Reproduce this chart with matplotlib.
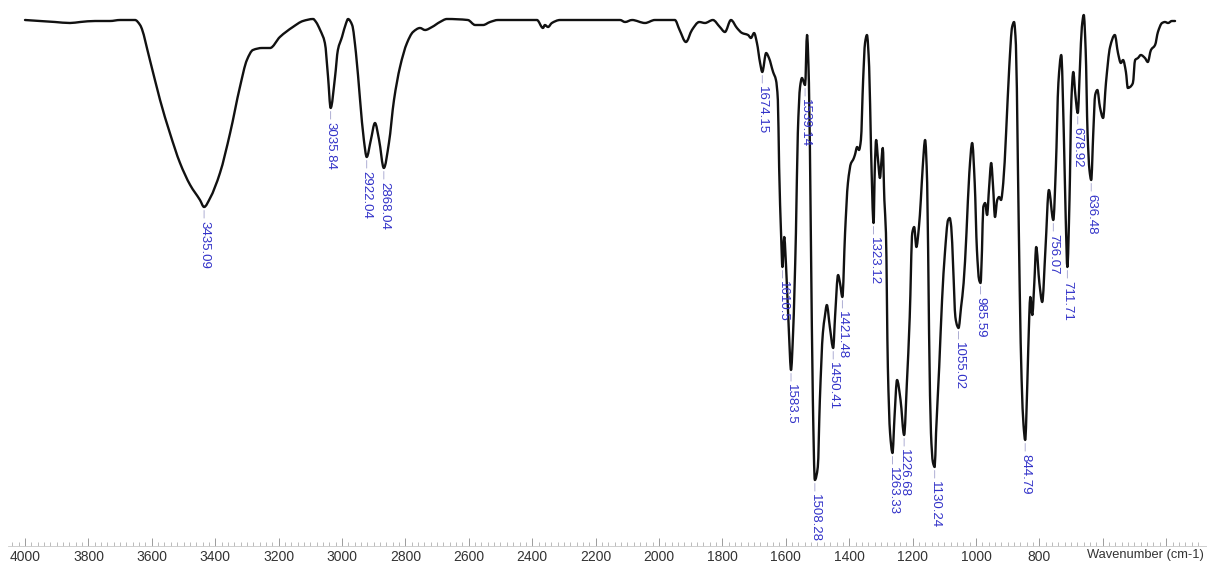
import numpy as np
import matplotlib
matplotlib.use("Agg")
import matplotlib.pyplot as plt
from matplotlib.ticker import FixedLocator, FixedFormatter
from matplotlib.path import Path
from matplotlib.patches import PathPatch

# FT-IR spectrum: wavenumber (cm-1) and transmittance (%)
wavenumber = [
    4000, 3953, 3905, 3858, 3826, 3779, 3732, 3700, 3669, 3653,
    3637, 3606, 3574, 3543, 3511, 3479, 3448, 3435.09, 3416, 3385,
    3353, 3322, 3300, 3281, 3252, 3227, 3196, 3155, 3123, 3091,
    3082, 3069, 3054, 3044, 3035.84, 3022, 3013, 3000, 2987, 2981,
    2968, 2956, 2943, 2931, 2922.04, 2909, 2896, 2883, 2868.04, 2852,
    2836, 2817, 2795, 2776, 2754, 2738, 2716, 2691, 2669, 2603,
    2580, 2555, 2533, 2508, 2385, 2366, 2360, 2350, 2338, 2312,
    2123, 2107, 2085, 2044, 2013, 1950, 1935, 1915, 1896, 1873,
    1855, 1830, 1808, 1792, 1773, 1754, 1738, 1719, 1710, 1700,
    1691, 1681, 1674.15, 1662, 1653, 1640, 1631, 1625, 1621, 1615,
    1610.5, 1605, 1599, 1590, 1583.5, 1577, 1568, 1562, 1555, 1549,
    1539.14, 1533, 1527, 1521, 1514.6, 1508.28, 1499, 1492.5, 1483, 1477,
    1470.5, 1461, 1450.41, 1444.6, 1435, 1429, 1421.48, 1413, 1404, 1394,
    1388, 1382, 1375, 1369, 1363, 1356, 1350, 1344, 1337, 1331,
    1323.12, 1319, 1315, 1309, 1303, 1298, 1294, 1289, 1284, 1278,
    1271, 1263.33, 1257, 1249, 1238, 1226.68, 1218, 1209, 1201, 1195,
    1188, 1180, 1174, 1168, 1160.5, 1154, 1148, 1142, 1136, 1130.24,
    1126, 1116, 1107, 1098, 1088, 1083, 1078, 1072, 1065, 1059,
    1055.02, 1047, 1039, 1030, 1021, 1012, 1004, 997, 990, 985.59,
    981, 977, 971, 965, 958.5, 952, 946, 940, 933, 927,
    921, 914, 905, 895, 886, 880, 874, 868, 862, 856,
    850, 844.79, 838, 832, 828.7, 822.4, 816, 810, 800, 791,
    781, 770, 756.07, 748, 740, 731, 723, 717, 711.71, 705,
    699, 693, 687, 678.92, 672, 666, 660, 654, 648, 642,
    636.48, 630, 624, 617, 609, 599, 590, 577, 562, 552,
    543, 536, 527, 521, 514, 505, 498, 489, 480, 467,
    458, 448, 435, 426, 413, 404, 394, 382, 372,
]

transmittance = [
    100.0, 99.8, 99.6, 99.4, 99.6, 99.8, 99.8, 100.0, 100.0, 100.0,
    99.0, 92.0, 84.0, 77.4, 71.4, 67.0, 64.0, 62.6, 64.4, 69.4,
    77.4, 86.6, 92.0, 94.0, 94.4, 94.4, 96.6, 98.6, 99.8, 100.2,
    99.6, 98.0, 95.4, 88.6, 82.4, 88.6, 94.0, 96.6, 99.4, 100.2,
    99.0, 93.4, 84.0, 76.0, 72.6, 76.0, 79.4, 76.0, 70.4, 75.4,
    84.0, 90.6, 95.4, 97.6, 98.4, 98.0, 98.6, 99.6, 100.2, 100.0,
    99.0, 99.0, 99.6, 100.0, 100.0, 98.4, 99.0, 98.6, 99.4, 100.0,
    100.0, 99.6, 100.0, 99.4, 100.0, 100.0, 98.0, 95.6, 98.0, 99.6,
    99.4, 100.0, 98.6, 97.6, 100.0, 98.4, 97.4, 97.0, 96.4, 97.4,
    95.4, 91.4, 89.6, 93.4, 92.4, 89.6, 88.0, 84.0, 70.6, 57.4,
    50.6, 56.6, 50.6, 37.4, 30.0, 37.4, 57.4, 77.4, 86.6, 88.4,
    87.0, 97.0, 87.4, 57.4, 24.0, 8.0, 10.6, 24.0, 37.4, 40.6,
    43.0, 38.6, 34.4, 40.6, 49.0, 47.4, 44.6, 57.4, 67.4, 71.4,
    72.0, 73.0, 74.6, 74.0, 76.0, 88.0, 95.4, 97.0, 90.6, 74.0,
    59.4, 70.6, 76.0, 72.0, 68.4, 72.0, 74.4, 64.0, 57.4, 30.6,
    17.4, 13.4, 20.6, 28.0, 24.0, 17.0, 27.4, 40.6, 57.4, 58.6,
    54.6, 58.6, 64.0, 70.6, 76.0, 67.4, 37.4, 17.4, 11.6, 10.6,
    17.4, 30.6, 44.0, 53.4, 60.0, 60.4, 58.6, 50.6, 40.6, 38.8,
    38.4, 42.6, 47.4, 57.4, 69.4, 75.4, 67.4, 54.0, 48.0, 47.4,
    54.0, 62.6, 63.4, 61.0, 66.6, 71.4, 66.6, 60.6, 64.0, 64.6,
    64.0, 67.4, 77.4, 90.6, 98.6, 99.6, 95.0, 72.0, 46.0, 28.0,
    19.0, 16.0, 27.4, 40.6, 44.6, 41.0, 47.4, 54.6, 47.4, 43.6,
    54.0, 66.0, 60.0, 70.6, 87.4, 93.0, 77.4, 60.6, 50.6, 64.0,
    84.0, 89.6, 85.4, 81.4, 90.6, 98.6, 101.0, 94.0, 77.4, 70.0,
    68.0, 77.4, 85.0, 86.0, 82.6, 80.4, 87.4, 94.6, 97.0, 93.4,
    91.4, 92.0, 89.6, 86.4, 86.6, 87.4, 92.0, 92.4, 93.0, 92.4,
    91.6, 94.0, 95.0, 97.6, 99.4, 99.6, 99.4, 99.8, 99.8,
]

# Picked band positions (cm-1)
peak_labels = [
    "3435.09", "3035.84", "2922.04", "2868.04", "1674.15", "1610.5",
    "1583.5", "1539.14", "1508.28", "1450.41", "1421.48", "1323.12",
    "1263.33", "1226.68", "1130.24", "1055.02", "985.59", "844.79",
    "756.07", "711.71", "678.92", "636.48",
]

major_ticks = [4000, 3800, 3600, 3400, 3200, 3000, 2800, 2600, 2400, 2200,
               2000, 1800, 1600, 1400, 1200, 1000, 800, 600, 400]
major_tick_labels = [str(v) for v in major_ticks[:-2]] + ["", ""]


def smooth_trace_path(x, y):
    """Monotone cubic (Fritsch-Carlson) Bezier path through the points."""
    x = np.asarray(x, float)
    y = np.asarray(y, float)
    order = np.argsort(x)
    x, y = x[order], y[order]
    h = np.diff(x)
    d = np.diff(y) / h
    m = np.zeros_like(y)
    m[0], m[-1] = d[0], d[-1]
    for i in range(1, len(x) - 1):
        if d[i - 1] * d[i] <= 0:
            m[i] = 0.0
        else:
            w1 = 2 * h[i] + h[i - 1]
            w2 = h[i] + 2 * h[i - 1]
            m[i] = (w1 + w2) / (w1 / d[i - 1] + w2 / d[i])
    verts = [(x[0], y[0])]
    codes = [Path.MOVETO]
    for i in range(len(x) - 1):
        verts += [(x[i] + h[i] / 3, y[i] + m[i] * h[i] / 3),
                  (x[i + 1] - h[i] / 3, y[i + 1] - m[i + 1] * h[i] / 3),
                  (x[i + 1], y[i + 1])]
        codes += [Path.CURVE4] * 3
    return Path(verts, codes)


plt.rcParams['font.family'] = ['Liberation Sans', 'DejaVu Sans']

fig = plt.figure(figsize=(12.07, 5.64), dpi=100)
ax = fig.add_axes([0, 18 / 564, 1, 546 / 564])

trace = PathPatch(smooth_trace_path(wavenumber, transmittance),
                  facecolor='none', edgecolor='#111111', lw=1.7,
                  joinstyle='round', capstyle='round')
ax.add_patch(trace)

ax.set_xlim(4078.9, 271.2)
ax.set_ylim(-5.2, 104)

for side in ('top', 'left', 'right'):
    ax.spines[side].set_visible(False)
ax.spines['bottom'].set_color('#c8c8c8')
ax.spines['bottom'].set_linewidth(0.6)
ax.spines['bottom'].set_bounds(4055, 271.2)
ax.set_yticks([])

ax.xaxis.set_major_locator(FixedLocator(major_ticks))
ax.xaxis.set_major_formatter(FixedFormatter(major_tick_labels))
ax.xaxis.set_minor_locator(FixedLocator(np.arange(4040, 280, -20)))
ax.tick_params(axis='x', which='major', direction='in', length=6, width=0.6,
               color='#8c8c8c', labelsize=10, labelcolor='#333333', pad=3)
ax.tick_params(axis='x', which='minor', direction='in', length=3, width=0.5,
               color='#a0a0a0')

fig.text(1204 / 1207, (564 - 555) / 564, "Wavenumber (cm-1)",
         ha='right', va='center', fontsize=9.3, color='#333333')

# Band labels hanging below each minimum
wn_asc = np.array(wavenumber)[::-1]
t_asc = np.array(transmittance)[::-1]
for lab in peak_labels:
    wn = float(lab)
    t = np.interp(wn, wn_asc, t_asc)
    ax.annotate(lab, xy=(wn, t), xytext=(0, -10), textcoords='offset points',
                rotation=270, ha='center', va='top', fontsize=9.5,
                color='#3232c8',
                arrowprops=dict(arrowstyle='-', color='#a0a0cc', lw=0.6,
                                shrinkA=0, shrinkB=2.5))

fig.savefig('out.png', dpi=100)
